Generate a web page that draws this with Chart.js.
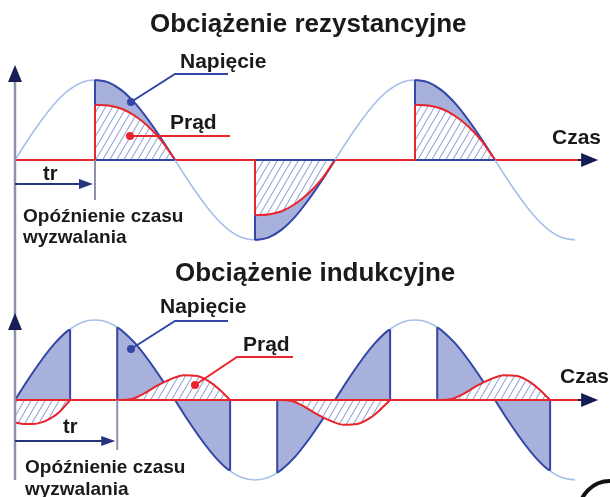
<!DOCTYPE html>
<html lang="pl">
<head>
<meta charset="utf-8">
<title>Obciążenie rezystancyjne i indukcyjne</title>
<script src="https://cdn.jsdelivr.net/npm/chart.js@4/dist/chart.umd.min.js"></script>
<style>
  html, body { margin: 0; padding: 0; background: #fff; }
  #wrap { position: relative; width: 610px; height: 497px; overflow: hidden; }
  canvas { position: absolute; left: 0; }
  #gora { top: 0; }
  #dol { top: 250px; }
</style>
</head>
<body>
<div id="wrap">
  <canvas id="gora" width="610" height="250"></canvas>
  <canvas id="dol" width="610" height="247"></canvas>
</div>
<script>
/* ===== dane: kąt fazowy w stopniach, amplituda napięcia = 1 ===== */
const faza = [0, 15, 30, 45, 60, 75, 90, 105, 120, 135, 150, 165, 180,
  195, 210, 225, 240, 255, 270, 285, 300, 315, 330, 345, 360,
  375, 390, 405, 420, 435, 450, 465, 480, 495, 510, 525, 540,
  555, 570, 585, 600, 615, 630];
const napiecie = [0, 0.26, 0.5, 0.71, 0.87, 0.97, 1, 0.97, 0.87, 0.71, 0.5, 0.26, 0,
  -0.26, -0.5, -0.71, -0.87, -0.97, -1, -0.97, -0.87, -0.71, -0.5, -0.26, 0,
  0.26, 0.5, 0.71, 0.87, 0.97, 1, 0.97, 0.87, 0.71, 0.5, 0.26, 0,
  -0.26, -0.5, -0.71, -0.87, -0.97, -1];

// obciążenie rezystancyjne: okna przewodzenia [zapłon, koniec] + napięcie na granicach
const oknaRez = [[90, 180], [270, 360], [450, 540]];
const granRez = [[1, 0], [-1, 0], [1, 0]];
const fazaPradRez = [90, 105, 120, 135, 150, 165, 180, null,
  270, 285, 300, 315, 330, 345, 360, null,
  450, 465, 480, 495, 510, 525, 540];
const pradRez = [0.69, 0.68, 0.64, 0.55, 0.42, 0.24, 0, null,
  -0.69, -0.68, -0.64, -0.55, -0.42, -0.24, 0, null,
  0.69, 0.68, 0.64, 0.55, 0.42, 0.24, 0];

// obciążenie indukcyjne
const oknaInd = [[0, 62], [115, 242], [295, 422], [475, 602]];
const granInd = [[0, 0.88], [0.91, -0.88], [-0.91, 0.88], [0.91, -0.88]];
const fazaPradInd = [0, 10, 20, 30, 40, 50, 62, null,
  115, 130, 145, 160, 175, 190, 205, 220, 230, 242, null,
  295, 310, 325, 340, 355, 370, 385, 400, 410, 422, null,
  475, 490, 505, 520, 535, 550, 565, 580, 590, 602];
const pradInd = [-0.28, -0.30, -0.30, -0.28, -0.23, -0.15, 0, null,
  0, 0.01, 0.08, 0.18, 0.26, 0.31, 0.30, 0.22, 0.13, 0, null,
  0, -0.01, -0.08, -0.18, -0.26, -0.31, -0.30, -0.22, -0.13, 0, null,
  0, 0.01, 0.08, 0.18, 0.26, 0.31, 0.30, 0.22, 0.13, 0];

// oś czasu (stopnie): zakres i koniec strzałki
const zakresX = [-16.875, 669.375];
const koniecOsi = 656;

/* ===== kolory ===== */
const RED = '#e8242c';
const NAVY = '#3446a6';
const LAV = '#a7b1db';
const LIGHT = '#a3c1ec';
const GREY = '#8c91b0';
const DARK = '#161d55';
const TXT = '#1a1a1a';
const FONT = '"Liberation Sans", Arial, sans-serif';

/* ===== pomocnicze ===== */
function punkty(xs, ys) {
  return xs.map((x, i) => ({ x: x === null ? xs[i - 1] : x, y: ys[i] }));
}

// napięcie tylko w oknach przewodzenia
function oknaNapiecia(okna, gran) {
  const out = [];
  okna.forEach(([od, doK], k) => {
    if (k) out.push({ x: od, y: null });
    out.push({ x: od, y: gran[k][0] });
    faza.forEach((x, i) => { if (x > od && x < doK) out.push({ x, y: napiecie[i] }); });
    out.push({ x: doK, y: gran[k][1] });
  });
  return out;
}

// pionowe kreski na granicach okien
function krawedzie(okna, gran, zPodstawa) {
  const out = [];
  okna.forEach(([od, doK], k) => {
    [[od, gran[k][0]], [doK, gran[k][1]]].forEach(([x, y]) => {
      if (y !== 0) out.push({ x, y: 0 }, { x, y }, { x, y: null });
    });
    if (zPodstawa) out.push({ x: od, y: 0 }, { x: doK, y: 0 }, { x: doK, y: null });
  });
  return out;
}

// skok prądu w chwili zapłonu
function skokiPradu(xs, ys) {
  const out = [];
  xs.forEach((x, i) => {
    if (x !== null && (i === 0 || xs[i - 1] === null) && ys[i] !== 0) {
      out.push({ x, y: 0 }, { x, y: ys[i] }, { x, y: null });
    }
  });
  return out;
}

function kreskowanie(ctx) {
  const c = document.createElement('canvas');
  c.width = 7; c.height = 12;
  const g = c.getContext('2d');
  g.fillStyle = '#fff';
  g.fillRect(0, 0, 7, 12);
  g.strokeStyle = '#93a3d6';
  g.lineWidth = 1.1;
  g.beginPath();
  [-7, 0, 7].forEach(d => { g.moveTo(d, 12); g.lineTo(d + 7, 0); });
  g.stroke();
  return ctx.createPattern(c, 'repeat');
}

/* ===== plugin: osie, strzałki, opisy ===== */
function grot(ctx, x, y, dx, dy, dl, szer) {
  // grot w kierunku (dx,dy) z czubkiem w (x,y)
  const px = -dy, py = dx;
  ctx.beginPath();
  ctx.moveTo(x, y);
  ctx.lineTo(x - dx * dl + px * szer, y - dy * dl + py * szer);
  ctx.lineTo(x - dx * dl - px * szer, y - dy * dl - py * szer);
  ctx.closePath();
  ctx.fill();
}

function osX(chart) {
  const ctx = chart.ctx, sx = chart.scales.x, sy = chart.scales.y;
  const y0 = sy.getPixelForValue(0);
  const x0 = sx.getPixelForValue(0), xk = sx.getPixelForValue(koniecOsi);
  ctx.save();
  ctx.strokeStyle = RED;
  ctx.lineWidth = 2;
  ctx.beginPath();
  ctx.moveTo(x0, y0);
  ctx.lineTo(xk - 14, y0);
  ctx.stroke();
  ctx.strokeStyle = DARK;
  ctx.beginPath();
  ctx.moveTo(xk - 20, y0);
  ctx.lineTo(xk - 10, y0);
  ctx.stroke();
  ctx.fillStyle = DARK;
  grot(ctx, xk, y0, 1, 0, 17, 7);
  ctx.restore();
}

const rysunek = {
  id: 'rysunek',
  beforeDatasetsDraw(chart, args, o) {
    if (o.osPod) osX(chart);
  },
  afterDatasetsDraw(chart, args, o) {
    const ctx = chart.ctx, sx = chart.scales.x, sy = chart.scales.y;
    if (!o.osPod) osX(chart);
    const x0 = sx.getPixelForValue(0), y0 = sy.getPixelForValue(0);
    const xz = sx.getPixelForValue(o.zaplon);
    ctx.save();

    // oś pionowa
    ctx.strokeStyle = GREY;
    ctx.lineWidth = 2.5;
    ctx.beginPath();
    ctx.moveTo(x0, o.osY[0]);
    ctx.lineTo(x0, o.osY[1]);
    ctx.stroke();
    ctx.fillStyle = DARK;
    grot(ctx, x0, o.grotY, 0, -1, 17, 7);

    // tr - opóźnienie zapłonu
    ctx.strokeStyle = GREY;
    ctx.lineWidth = 2;
    ctx.beginPath();
    ctx.moveTo(xz, y0);
    ctx.lineTo(xz, o.trTick);
    ctx.stroke();
    ctx.strokeStyle = '#27357f';
    ctx.beginPath();
    ctx.moveTo(x0, o.trY);
    ctx.lineTo(xz - 10, o.trY);
    ctx.stroke();
    ctx.fillStyle = '#27357f';
    grot(ctx, xz - 2, o.trY, 1, 0, 14, 5);

    // linie odniesienia
    o.linie.forEach(l => {
      ctx.strokeStyle = l.kolor;
      ctx.fillStyle = l.kolor;
      ctx.lineWidth = 2;
      ctx.beginPath();
      l.pts.forEach(([x, y], i) => (i ? ctx.lineTo(x, y) : ctx.moveTo(x, y)));
      ctx.stroke();
      const [dx, dy] = l.pts[l.pts.length - 1];
      ctx.beginPath();
      ctx.arc(dx, dy, 4, 0, Math.PI * 2);
      ctx.fill();
    });

    // napisy
    ctx.fillStyle = TXT;
    ctx.textBaseline = 'alphabetic';
    ctx.textAlign = 'left';
    o.napisy.forEach(n => {
      ctx.font = `bold ${n.size}px ${FONT}`;
      ctx.fillText(n.t, n.x, n.y);
    });

    if (o.luk) {
      ctx.strokeStyle = '#111';
      ctx.lineWidth = 4;
      ctx.beginPath();
      ctx.arc(o.luk[0], o.luk[1], o.luk[2], Math.PI, Math.PI * 2);
      ctx.stroke();
    }
    ctx.restore();
  }
};

/* ===== wykresy ===== */
function zbiory(ctx, okna, gran, fazaPrad, prad, zPodstawa) {
  return [
    { label: 'skok prądu', data: skokiPradu(fazaPrad, prad), borderColor: RED, borderWidth: 2, order: 0 },
    { label: 'granice', data: krawedzie(okna, gran, zPodstawa), borderColor: NAVY, borderWidth: 2, order: 1 },
    { label: 'Prąd', data: punkty(fazaPrad, prad), borderColor: RED, borderWidth: 2,
      fill: 'origin', backgroundColor: kreskowanie(ctx), cubicInterpolationMode: 'monotone', order: 2 },
    { label: 'Napięcie (przewodzenie)', data: oknaNapiecia(okna, gran), borderColor: NAVY, borderWidth: 2,
      fill: 'origin', backgroundColor: LAV, cubicInterpolationMode: 'monotone', order: 3 },
    { label: 'Napięcie', data: punkty(faza, napiecie), borderColor: LIGHT, borderWidth: 1.6,
      cubicInterpolationMode: 'monotone', order: 4 }
  ];
}

function opcje(yMin, yMax, plug) {
  return {
    responsive: false,
    animation: false,
    events: [],
    layout: { padding: 0 },
    elements: { point: { radius: 0 } },
    scales: {
      x: { type: 'linear', min: zakresX[0], max: zakresX[1], display: false },
      y: { min: yMin, max: yMax, display: false }
    },
    plugins: { legend: { display: false }, tooltip: { enabled: false }, rysunek: plug }
  };
}

const ctxG = document.getElementById('gora').getContext('2d');
new Chart(ctxG, {
  type: 'line',
  data: { datasets: zbiory(ctxG, oknaRez, granRez, fazaPradRez, pradRez, true) },
  options: opcje(-1.125, 2.0, {
    osPod: true,
    zaplon: oknaRez[0][0],
    osY: [70, 250], grotY: 65,
    trY: 184, trTick: 200,
    linie: [
      { kolor: NAVY, pts: [[228, 74], [175, 74], [131, 102]] },
      { kolor: RED, pts: [[230, 136], [130, 136]] }
    ],
    napisy: [
      { t: 'Obciążenie rezystancyjne', x: 150, y: 32, size: 26 },
      { t: 'Napięcie', x: 180, y: 68, size: 21 },
      { t: 'Prąd', x: 170, y: 129, size: 21 },
      { t: 'Czas', x: 552, y: 144, size: 21 },
      { t: 'tr', x: 43, y: 180, size: 20 },
      { t: 'Opóźnienie czasu', x: 23, y: 222, size: 19 },
      { t: 'wyzwalania', x: 23, y: 243, size: 19 }
    ]
  }),
  plugins: [rysunek]
});

const ctxD = document.getElementById('dol').getContext('2d');
new Chart(ctxD, {
  type: 'line',
  data: { datasets: zbiory(ctxD, oknaInd, granInd, fazaPradInd, pradInd, false) },
  options: opcje(-1.2125, 1.875, {
    osPod: false,
    zaplon: oknaInd[1][0],
    osY: [0, 230], grotY: 63,
    trY: 191, trTick: 200,
    linie: [
      { kolor: NAVY, pts: [[228, 71], [175, 71], [131, 99]] },
      { kolor: RED, pts: [[293, 107], [237, 107], [195, 135]] }
    ],
    napisy: [
      { t: 'Obciążenie indukcyjne', x: 175, y: 31, size: 26 },
      { t: 'Napięcie', x: 160, y: 63, size: 21 },
      { t: 'Prąd', x: 243, y: 101, size: 21 },
      { t: 'Czas', x: 560, y: 133, size: 21 },
      { t: 'tr', x: 63, y: 183, size: 20 },
      { t: 'Opóźnienie czasu', x: 25, y: 223, size: 19 },
      { t: 'wyzwalania', x: 25, y: 245, size: 19 }
    ],
    luk: [610, 262, 31]
  }),
  plugins: [rysunek]
});
</script>
</body>
</html>
